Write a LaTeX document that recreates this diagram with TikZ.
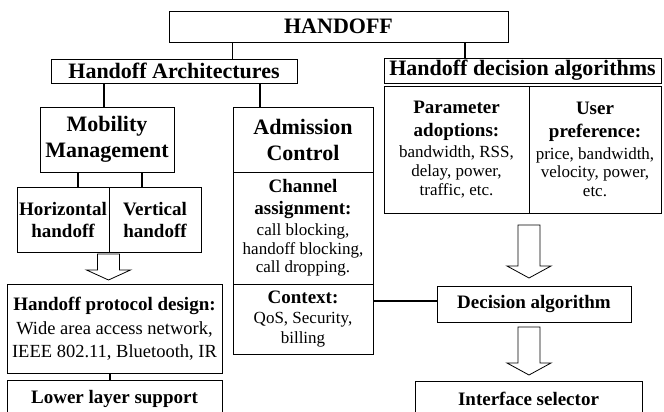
\documentclass[tikz,border=0pt]{standalone}
\usepackage{fontspec}
\setmainfont{Liberation Serif}
\usetikzlibrary{calc}
\newcommand\hbig{\fontsize{22}{26}\selectfont\bfseries}
\newcommand\hmid{\fontsize{19}{22}\selectfont\bfseries}
\newcommand\rtxt{\fontsize{17}{18.8}\selectfont\mdseries}
\newcommand\rmid{\fontsize{18.5}{23}\selectfont\mdseries}
\tikzset{
  box/.style={draw=black, line width=0.8pt, rectangle, inner sep=0pt, align=center},
  conn/.style={draw=black, line width=1.4pt},
  harrow/.style={draw=black, line width=0.8pt, fill=white, line join=miter},
}
\newcommand\hollowarrow[3]{%
  \draw[harrow] let \p1=(#1), \p2=(#2) in
    (\x1-11pt,\y1) -- (\x1+11pt,\y1) -- (\x1+11pt,\y2+#3) -- (\x1+22pt,\y2+#3)
    -- (\x2,\y2) -- (\x1-22pt,\y2+#3) -- (\x1-11pt,\y2+#3) -- cycle;}
\begin{document}
\begin{tikzpicture}[x=1pt,y=-1pt]
\useasboundingbox (0,0) rectangle (664,412);
\clip (0,0) rectangle (664,412);

% top level
\node[box, minimum width=339pt, minimum height=31pt, font=\hbig] (handoff) at (338.5,26.5) {HANDOFF};
\node[box, minimum width=246pt, minimum height=24pt, font=\hbig] (arch) at (174,71) {Handoff Architectures};
\node[box, minimum width=277pt, minimum height=25pt, font=\hbig] (hda) at (522.5,70.5) {Handoff decision algorithms};

% architectures
\node[box, minimum width=134pt, minimum height=65pt, font=\hbig] (mm) at (107,139.5) {Mobility\\Management};
\node[box, minimum width=140pt, minimum height=65pt, font=\hbig] (ac) at (303,139.5) {Admission\\Control};
\node[box, minimum width=140pt, minimum height=112pt, font=\rtxt] (chan) at (303,228)
  {\hmid Channel\\[3pt]\hmid assignment:\\[2pt]call blocking,\\handoff blocking,\\call dropping.};
\node[box, minimum width=140pt, minimum height=70pt, font=\rtxt] (ctx) at (303,319)
  {\hmid Context:\\[1.5pt]QoS, Security,\\[1pt]billing};
\node[box, minimum width=92pt, minimum height=65pt, font=\hmid] (horiz) at (63,219.5) {Horizontal\\handoff};
\node[box, minimum width=92pt, minimum height=65pt, font=\hmid] (vert) at (155,219.5) {Vertical\\handoff};
\node[box, minimum width=215pt, minimum height=89pt, font=\rmid] (proto) at (114.5,328.5)
  {\hmid Handoff protocol design:\\[1pt]Wide area access network,\\IEEE 802.11, Bluetooth, IR};
\node[box, minimum width=215pt, minimum height=38pt, font=\hmid] (lower) at (114.5,399) {Lower layer support};

% decision algorithms
\node[box, minimum width=145pt, minimum height=127pt, font=\rtxt] (param) at (456.5,149.5)
  {\hmid Parameter\\[4pt]\hmid adoptions:\\[3pt]bandwidth, RSS,\\delay, power,\\traffic, etc.};
\node[box, minimum width=132pt, minimum height=127pt, font=\rtxt] (user) at (595,149.5)
  {\hmid User\\[4pt]\hmid preference:\\[3pt]price, bandwidth,\\velocity, power,\\etc.};
\node[box, minimum width=194pt, minimum height=36pt, font=\hmid] (decision) at (534,304) {Decision algorithm};
\node[box, minimum width=227pt, minimum height=36pt, font=\hmid] (iface) at (528.5,399) {Interface selector};

% connectors
\draw[conn] (handoff.south -| ac.west) -- (arch.north -| ac.west);
\draw[conn] ([xshift=-57.5pt]hda.north) -- ([xshift=-57.5pt]hda.north |- handoff.south);
\draw[conn] ([xshift=-3pt]mm.north) -- ([xshift=-3pt]mm.north |- arch.south);
\draw[conn] ([xshift=-43pt]ac.north) -- ([xshift=-43pt]ac.north |- arch.south);
\draw[conn] ([xshift=15pt]horiz.north) -- ([xshift=15pt]horiz.north |- mm.south);
\draw[conn] ([xshift=-13pt]vert.north) -- ([xshift=-13pt]vert.north |- mm.south);
\draw[conn] ([xshift=-4.5pt]lower.north) -- ([xshift=-4.5pt]lower.north |- proto.south);
\draw[conn] ([yshift=3pt]decision.west) -- ([yshift=3pt]decision.west -| ctx.east);

% hollow arrows
\coordinate (a1s) at (108.5,254);
\coordinate (a1e) at (108.5,280);
\coordinate (a2s) at (529,225);
\coordinate (a2e) at (529,278);
\coordinate (a3s) at (529,327);
\coordinate (a3e) at (529,375);
\hollowarrow{a1s}{a1e}{10pt}
\hollowarrow{a2s}{a2e}{12pt}
\hollowarrow{a3s}{a3e}{12pt}
\end{tikzpicture}
\end{document}
